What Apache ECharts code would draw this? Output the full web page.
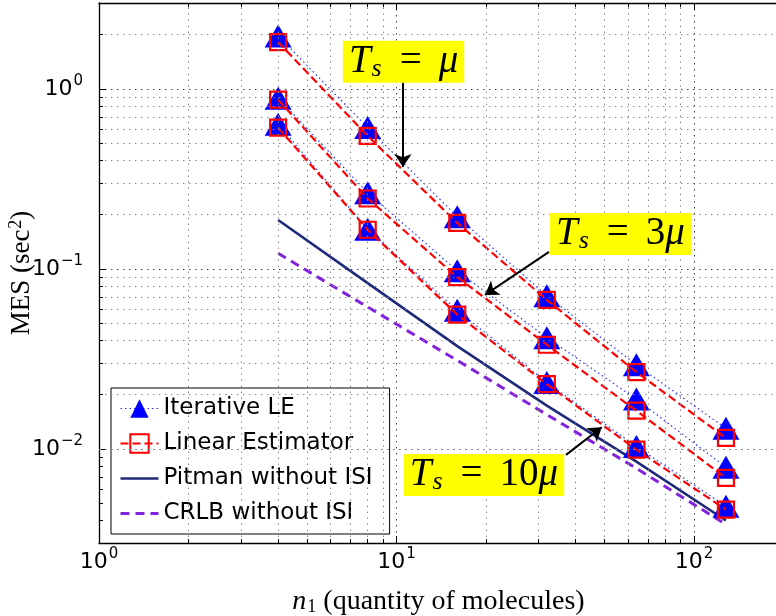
<!DOCTYPE html>
<html>
<head>
<meta charset="utf-8">
<script src="https://cdn.jsdelivr.net/npm/echarts@6/dist/echarts.min.js"></script>
<style>
  html, body { margin: 0; padding: 0; background: #fff; }
  #chart { width: 776px; height: 616px; }
</style>
</head>
<body>
<div id="chart"></div>
<script>
// number of molecules
var n1 = [4, 8, 16, 32, 64, 128];

// Iterative LE (triangles), one array per T_s
var iterMu   = [1.97, 0.61, 0.195, 0.071, 0.0293, 0.0130];
var iter3Mu  = [0.888, 0.265, 0.0975, 0.0415, 0.0189, 0.0079];
var iter10Mu = [0.636, 0.166, 0.0589, 0.0234, 0.0103, 0.0048];

// Linear Estimator (squares)
var linMu   = [1.82, 0.548, 0.180, 0.0673, 0.0267, 0.0115];
var lin3Mu  = [0.871, 0.246, 0.090, 0.0379, 0.0163, 0.0069];
var lin10Mu = [0.609, 0.165, 0.0557, 0.0229, 0.0099, 0.0046];

// bounds without ISI
var pitman = [0.187, 0.0834, 0.0372, 0.0174, 0.0085, 0.0040];
var crlb   = [0.122, 0.0614, 0.0310, 0.0155, 0.0078, 0.0038];

// minor grid values
var xMinor = [2, 3, 4, 5, 6, 7, 8, 9, 20, 30, 40, 50, 60, 70, 80, 90];
var yMinor = [0.004, 0.005, 0.006, 0.007, 0.008, 0.009,
              0.02, 0.03, 0.04, 0.05, 0.06, 0.07, 0.08, 0.09,
              0.2, 0.3, 0.4, 0.5, 0.6, 0.7, 0.8, 0.9, 2];

// annotations: [label, box centre x, box centre y, arrow from x, y, arrow to x, y]
var notes = [
  ['{t|T}{s|s}{eq|=}{m|\u03bc}', 10.56, 1.413, 10.51, 1.08, 10.51, 0.3686],
  ['{t|T}{s|s}{eq|=}{r|3}{m|\u03bc}', 56.6, 0.1564, 32.55, 0.1243, 19.84, 0.0717],
  ['{t|T}{s|s}{eq|=}{r|10}{m|\u03bc}', 19.68, 0.00717, 37.13, 0.00926, 48.95, 0.0132]
];

var X_MIN = 1, X_MAX = 191.5, Y_MIN = 0.003, Y_MAX = 3;

function pairs(ys) {
  return n1.map(function (x, i) { return [x, ys[i]]; });
}

function iterSeries(ys) {
  return {
    name: 'Iterative LE', type: 'line', data: pairs(ys),
    symbol: 'triangle', symbolSize: [27, 23],
    itemStyle: { color: '#0000ff' },
    lineStyle: { color: '#2233ff', width: 1.2, type: [1.5, 3] },
    z: 3
  };
}

function linSeries(ys) {
  return {
    name: 'Linear Estimator', type: 'line', data: pairs(ys),
    symbol: 'rect', symbolSize: 16,
    itemStyle: { color: 'rgba(255,255,255,0)', borderColor: '#ff0000', borderWidth: 2.2 },
    lineStyle: { color: '#ff0000', width: 2.2, type: [8, 4] },
    z: 4
  };
}

function powLabel(v) {
  var e = Math.log(v) / Math.LN10;
  var r = Math.round(e);
  if (Math.abs(e - r) > 1e-6) return '';
  return '{b|10}{e|' + String(r).replace('-', '\u2212') + '}';
}

var tickRich = {
  b: { fontFamily: 'DejaVu Sans', fontSize: 22, color: '#000' },
  e: { fontFamily: 'DejaVu Sans', fontSize: 15, color: '#000', padding: [0, 0, 16, 1] }
};

var serif = 'Liberation Serif';

// minor ticks as short segments at the frame
var tickLenX = Math.pow(10, 4 / 180), tickLenY = Math.pow(10, 4 / 297.5);
var minorTicks = [];
xMinor.forEach(function (v) {
  minorTicks.push([{ coord: [v, Y_MIN] }, { coord: [v, Y_MIN * tickLenX] }]);
  minorTicks.push([{ coord: [v, Y_MAX] }, { coord: [v, Y_MAX / tickLenX] }]);
});
yMinor.forEach(function (v) {
  minorTicks.push([{ coord: [X_MIN, v] }, { coord: [X_MIN * tickLenY, v] }]);
});

var noteRich = {
  t: { fontFamily: serif, fontStyle: 'italic', fontSize: 39, color: '#000' },
  s: { fontFamily: serif, fontStyle: 'italic', fontSize: 26, color: '#000', padding: [15, 0, 0, 1] },
  eq: { fontFamily: serif, fontSize: 39, color: '#000', padding: [0, 17, 0, 18] },
  r: { fontFamily: serif, fontSize: 39, color: '#000' },
  m: { fontFamily: serif, fontStyle: 'italic', fontSize: 39, color: '#000' }
};

var hideMark = { color: 'rgba(0,0,0,0)', borderColor: 'rgba(0,0,0,0)', borderWidth: 0, opacity: 0 };

var chart = echarts.init(document.getElementById('chart'));

chart.setOption({
  animation: false,
  backgroundColor: '#fff',
  grid: { left: 99, top: 3, right: -2, bottom: 73, outerBoundsMode: 'none' },
  legend: {
    orient: 'vertical', left: 111, top: 388,
    data: [
      'Iterative LE',
      'Linear Estimator',
      { name: 'Pitman without ISI', itemStyle: hideMark },
      { name: 'CRLB without ISI', itemStyle: hideMark }
    ],
    backgroundColor: '#fff', borderColor: '#000', borderWidth: 1, borderRadius: 0,
    padding: [9, 17, 9, 8], itemWidth: 38, itemHeight: 23, itemGap: 12,
    lineStyle: { width: 'inherit' },
    textStyle: { fontFamily: 'DejaVu Sans', fontSize: 23, color: '#000', lineHeight: 23 },
    selectedMode: false
  },
  xAxis: [{
    type: 'log', logBase: 10, min: X_MIN, max: X_MAX, position: 'bottom',
    name: '{i|n}{sub|1}{r| (quantity of molecules)}',
    nameLocation: 'middle', nameGap: 45, nameMoveOverlap: false,
    nameTextStyle: {
      rich: {
        i: { fontFamily: serif, fontStyle: 'italic', fontSize: 28, color: '#000' },
        sub: { fontFamily: serif, fontSize: 18, color: '#000', padding: [10, 0, 0, 1] },
        r: { fontFamily: serif, fontSize: 28, color: '#000' }
      }
    },
    axisLine: { lineStyle: { color: '#000', width: 1.3 } },
    axisTick: { inside: true, length: 7, lineStyle: { color: '#000' } },
    axisLabel: { margin: 4, formatter: powLabel, rich: tickRich, showMaxLabel: false },
    splitLine: { show: true, lineStyle: { color: '#444', width: 1, type: [1.5, 4.5] } }
  }, {
    type: 'log', logBase: 10, min: X_MIN, max: X_MAX, position: 'top',
    axisLine: { lineStyle: { color: '#000', width: 1.3 } },
    axisTick: { inside: true, length: 7, lineStyle: { color: '#000' } },
    axisLabel: { show: false },
    splitLine: { show: false }
  }],
  yAxis: {
    type: 'log', logBase: 10, min: Y_MIN, max: Y_MAX,
    name: '{r|MES (sec}{sup|2}{r|)}',
    nameLocation: 'middle', nameRotate: 90, nameGap: 62, nameMoveOverlap: false,
    nameTextStyle: {
      rich: {
        r: { fontFamily: serif, fontSize: 27, color: '#000' },
        sup: { fontFamily: serif, fontSize: 18, color: '#000', padding: [0, 0, 12, 1] }
      }
    },
    axisLine: { lineStyle: { color: '#000', width: 1.3 } },
    axisTick: { inside: true, length: 7, lineStyle: { color: '#000' } },
    axisLabel: { margin: 16, formatter: powLabel, rich: tickRich, showMinLabel: false, showMaxLabel: false },
    splitLine: { show: true, lineStyle: { color: '#444', width: 1, type: [1.5, 4.5] } }
  },
  series: [
    {
      name: 'minor', type: 'line', data: [], silent: true, z: 1,
      markLine: {
        silent: true, symbol: 'none', label: { show: false },
        lineStyle: { color: '#888', width: 1, type: [1.5, 4.5] },
        data: xMinor.map(function (v) { return { xAxis: v }; })
          .concat(yMinor.map(function (v) { return { yAxis: v }; }))
      }
    },
    {
      name: 'ticks', type: 'line', data: [], silent: true, z: 1,
      markLine: {
        silent: true, symbol: 'none', label: { show: false },
        lineStyle: { color: '#000', width: 1, type: 'solid' },
        data: minorTicks
      }
    },
    iterSeries(iterMu), iterSeries(iter3Mu), iterSeries(iter10Mu),
    linSeries(linMu), linSeries(lin3Mu), linSeries(lin10Mu),
    {
      name: 'Pitman without ISI', type: 'line', data: pairs(pitman), symbol: 'none',
      itemStyle: { color: '#1f2a7a' },
      lineStyle: { color: '#1f2a7a', width: 2.6 }, z: 3
    },
    {
      name: 'CRLB without ISI', type: 'line', data: pairs(crlb), symbol: 'none',
      itemStyle: { color: '#8222dd' },
      lineStyle: { color: '#8222dd', width: 3, type: [9, 6] }, z: 3
    },
    {
      name: 'notes', type: 'line', data: [], silent: true, z: 6,
      markLine: {
        silent: true, symbol: ['none', 'arrow'], symbolSize: 13, label: { show: false },
        lineStyle: { color: '#000', width: 2, type: 'solid' },
        data: notes.map(function (a) {
          return [{ coord: [a[3], a[4]] }, { coord: [a[5], a[6]] }];
        })
      },
      markPoint: {
        silent: true, symbol: 'rect', symbolSize: 0,
        data: notes.map(function (a) {
          return {
            coord: [a[1], a[2]],
            label: {
              show: true, position: 'inside', formatter: a[0], rich: noteRich,
              backgroundColor: '#ffff00', padding: [0, 6, 1, 6]
            }
          };
        })
      }
    }
  ]
});
</script>
</body>
</html>
